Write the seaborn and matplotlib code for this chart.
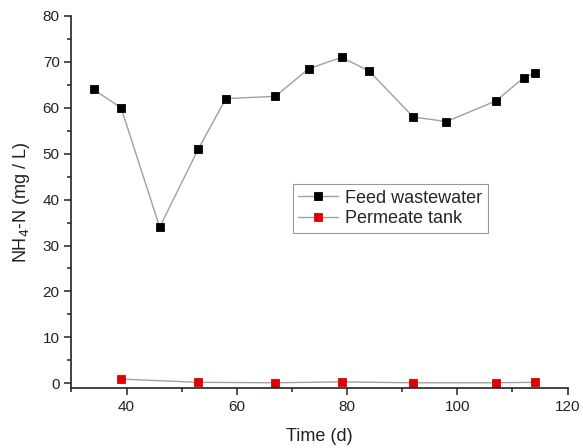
import matplotlib
matplotlib.use("Agg")
import matplotlib.pyplot as plt
import seaborn as sns
import pandas as pd

# Sampling days and NH4-N concentrations (mg/L)
feed_days = [34, 39, 46, 53, 58, 67, 73, 79, 84, 92, 98, 107, 112, 114]
feed_nh4 = [64, 60, 34, 51, 62, 62.5, 68.5, 71, 68, 58, 57, 61.5, 66.5, 67.5]
perm_days = [39, 53, 67, 79, 92, 107, 114]
perm_nh4 = [0.9, 0.2, 0.1, 0.3, 0.1, 0.1, 0.2]

sns.set_style("ticks")
plt.rcParams["font.family"] = ["Liberation Sans", "DejaVu Sans"]

fig = plt.figure(figsize=(5.83, 4.48), dpi=100)
ax = fig.add_axes([0.1226, 0.1333, 0.851, 0.831])

feed = pd.DataFrame({"day": feed_days, "nh4": feed_nh4})
perm = pd.DataFrame({"day": perm_days, "nh4": perm_nh4})

line_kw = dict(color="#a0a0a0", linewidth=1.0, marker="s", markersize=6,
               markeredgewidth=0.6)
sns.lineplot(data=feed, x="day", y="nh4", ax=ax, label="Feed wastewater",
             markerfacecolor="black", markeredgecolor="black", **line_kw)
sns.lineplot(data=perm, x="day", y="nh4", ax=ax, label="Permeate tank",
             markerfacecolor="#e00000", markeredgecolor="#e00000", **line_kw)

ax.set_xlim(30, 120)
ax.set_ylim(-1.1, 80)
ax.set_xticks([40, 60, 80, 100, 120])
ax.set_xticks([30, 50, 70, 90, 110], minor=True)
ax.set_yticks(range(0, 81, 10))
ax.set_yticks(range(5, 80, 10), minor=True)

for side in ("top", "right"):
    ax.spines[side].set_visible(False)
for side in ("left", "bottom"):
    ax.spines[side].set_color("#222222")
    ax.spines[side].set_linewidth(1.2)

ax.tick_params(which="major", direction="out", length=5, width=1.1,
               colors="#222222", labelsize=11, labelcolor="#222222")
ax.tick_params(which="minor", direction="out", length=3, width=1.1,
               colors="#222222")

ax.set_xlabel("Time (d)", fontsize=13, color="#222222", labelpad=10)
ax.set_ylabel("NH$_4$-N (mg / L)", fontsize=13, color="#222222", labelpad=8)

leg = ax.legend(loc="upper left", bbox_to_anchor=(0.446, 0.548),
                borderaxespad=0, fontsize=13, fancybox=False,
                edgecolor="#999999", handlelength=2.2, handletextpad=0.4,
                labelspacing=0.2, borderpad=0.3, framealpha=1)
leg.get_frame().set_linewidth(0.8)

fig.savefig("out.png", dpi=100)
